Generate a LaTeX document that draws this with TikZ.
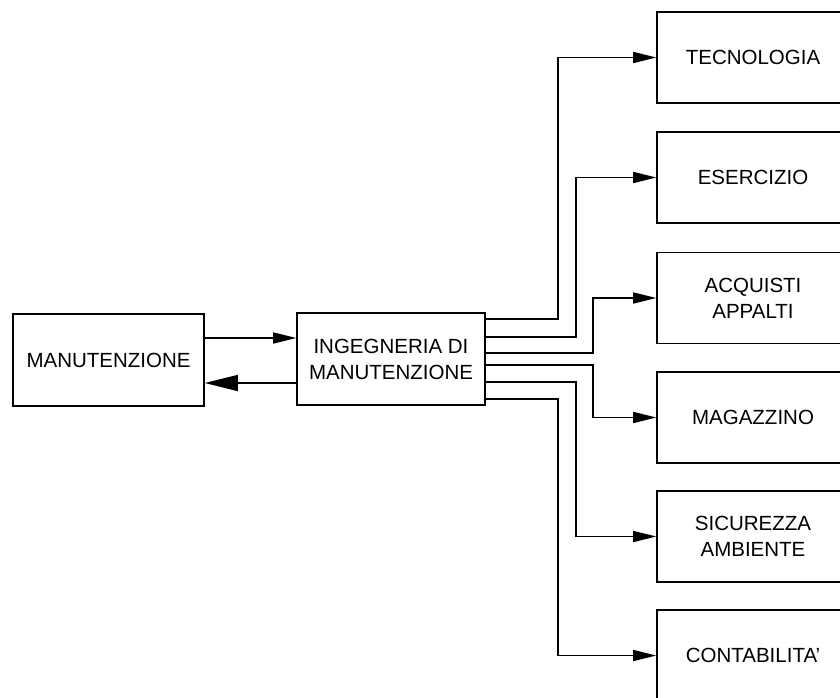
\documentclass[tikz,border=0pt]{standalone}
\usepackage{fontspec}
\setmainfont{Liberation Sans}
\usetikzlibrary{arrows.meta}
\begin{document}
\begin{tikzpicture}[x=1pt,y=-1pt,
  box/.style={draw, line width=1.7pt, rectangle, inner sep=0pt, align=center,
    font=\fontsize{20.5}{26}\selectfont},
  lbox/.style={box, minimum width=191pt, minimum height=92pt},
  rbox/.style={box, minimum width=192pt, minimum height=91pt},
  conn/.style={line width=1.5pt, -{Triangle[length=23pt,width=11pt]}},
  back/.style={line width=1.5pt, -{Triangle[length=33pt,width=16pt]}}]
\clip (0,0) rectangle (840,698);
\fill[white] (0,0) rectangle (840,698);
\node[lbox] (man) at (108.5,360) {MANUTENZIONE};
\node[box, minimum width=188pt, minimum height=92pt] (ing) at (391,359) {INGEGNERIA DI\\MANUTENZIONE};
\node[rbox] (tec) at (753,57.5) {TECNOLOGIA};
\node[rbox] (ese) at (753,177.5) {ESERCIZIO};
\node[rbox] (acq) at (753,298) {ACQUISTI\\APPALTI};
\node[rbox] (mag) at (753,417.5) {MAGAZZINO};
\node[rbox] (sic) at (753,536.5) {SICUREZZA\\AMBIENTE};
\node[rbox] (con) at (753,655.5) {CONTABILITA\char"0027};
\draw[conn] (man.east |- 0,338) -- (ing.west |- 0,338);
\draw[back] (ing.west |- 0,383) -- (man.east |- 0,383);
\draw[conn] (ing.east |- 0,319) -- (558,319) |- (tec.west);
\draw[conn] (ing.east |- 0,337) -- (576,337) |- (ese.west);
\draw[conn] (ing.east |- 0,353) -- (593,353) |- (acq.west);
\draw[conn] (ing.east |- 0,365) -- (593,365) |- (mag.west);
\draw[conn] (ing.east |- 0,382) -- (576,382) |- (sic.west);
\draw[conn] (ing.east |- 0,399) -- (558,399) |- (con.west);
\end{tikzpicture}
\end{document}
